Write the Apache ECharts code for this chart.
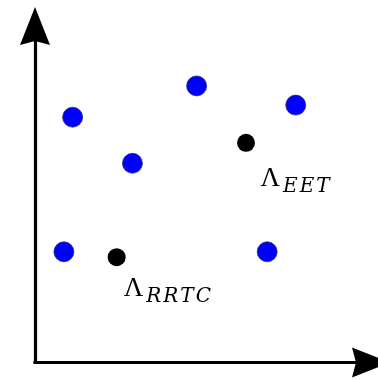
<!DOCTYPE html>
<html>
<head>
<meta charset="utf-8">
<script src="https://cdn.jsdelivr.net/npm/echarts@6/dist/echarts.min.js"></script>
<style>
  html, body { margin: 0; padding: 0; background: #fff; }
  #chart { width: 378px; height: 381px; }
</style>
</head>
<body>
<div id="chart"></div>
<script>
// Blue points
const blueX = [11.2, 48.1, 77.6, 29.0, 8.6, 69.1];
const blueY = [72.9, 82.2, 76.5, 59.2, 32.9, 32.9];

// Black labelled points (Λ with subscript)
const blackX = [62.8, 24.3];
const blackY = [65.3, 31.3];
const blackSubs = ['EET', 'RRTC'];

// Stealth-style arrow head for the axis ends (tip pointing up)
const arrowHead = 'path://M15,0 L30,38 L15,34 L0,38 Z';

// Where each Λ label sits relative to its point's symbol box
const labelPos = [[23.5, 32], [16, 27.5]];

// Subscript letters are set one token each so they get math-italic spacing
function lambdaLabel(sub) {
  return '{L|Λ}' + sub.split('').map((c, j) => '{' + (j ? 's' : 'f') + '|' + c + '}').join('');
}

const subStyle = {
  fontFamily: 'DejaVu Serif', fontStyle: 'italic', fontSize: 20, lineHeight: 20,
  verticalAlign: 'top', color: '#000'
};

const axisCommon = {
  type: 'value',
  min: 0,
  max: 100,
  axisLine: {
    show: true,
    symbol: ['none', arrowHead],
    symbolSize: [30, 38],
    lineStyle: { color: '#000', width: 3.2, cap: 'square' }
  },
  axisTick: { show: false },
  axisLabel: { show: false },
  splitLine: { show: false }
};

const chart = echarts.init(document.getElementById('chart'), null, { renderer: 'canvas' });
chart.setOption({
  animation: false,
  backgroundColor: '#fff',
  grid: { left: 35, right: 7, top: 26, bottom: 18.5, containLabel: false },
  xAxis: axisCommon,
  yAxis: axisCommon,
  series: [
    {
      type: 'scatter',
      silent: true,
      symbolSize: 20,
      itemStyle: { color: '#0000ff', borderColor: '#22226a', borderWidth: 0.7, opacity: 1 },
      data: blueX.map((x, i) => [x, blueY[i]])
    },
    {
      type: 'scatter',
      silent: true,
      symbolSize: 18,
      itemStyle: { color: '#000', opacity: 1 },
      label: {
        show: true,
        rich: {
          L: { fontFamily: 'Liberation Serif', fontSize: 27, lineHeight: 27, verticalAlign: 'top', color: '#000' },
          f: Object.assign({}, subStyle, { padding: [11, 2, 0, 3] }),
          s: Object.assign({}, subStyle, { padding: [11, 2, 0, 0] })
        }
      },
      data: blackX.map((x, i) => ({
        value: [x, blackY[i]],
        label: { position: labelPos[i], formatter: lambdaLabel(blackSubs[i]) }
      }))
    }
  ]
});
</script>
</body>
</html>
